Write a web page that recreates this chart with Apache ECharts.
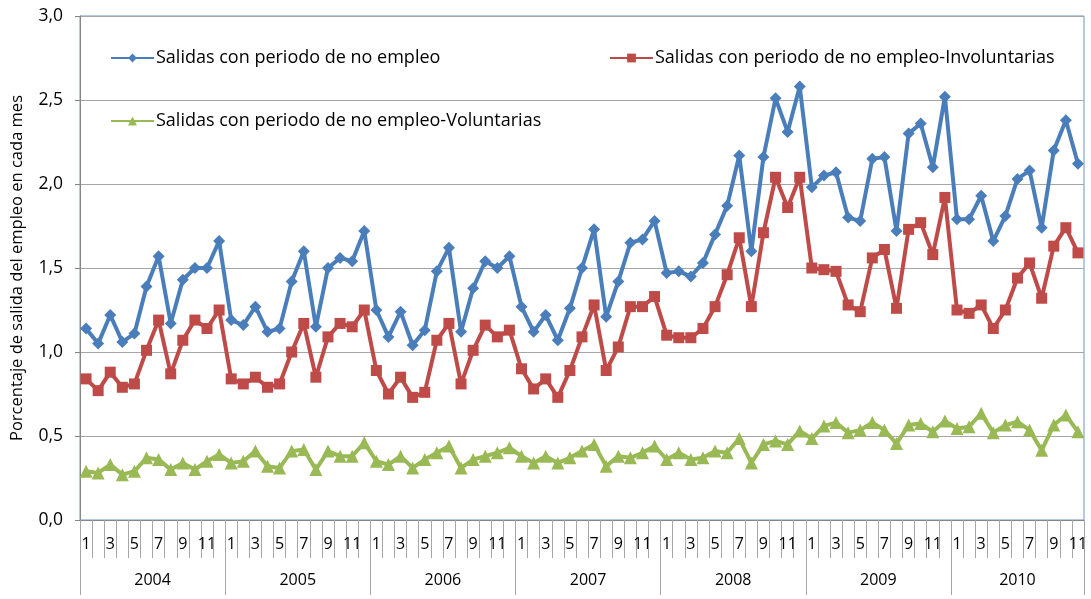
<!DOCTYPE html>
<html>
<head>
<meta charset="utf-8">
<script src="https://cdn.jsdelivr.net/npm/echarts@6/dist/echarts.min.js"></script>
<style>
html,body{margin:0;padding:0;background:#fff;}
#chart{width:1091px;height:599px;}
</style>
</head>
<body>
<div id="chart"></div>
<script>
// ---- Data ----
var years = ['2004', '2005', '2006', '2007', '2008', '2009', '2010'];
var monthsPerYear = [12, 12, 12, 12, 12, 12, 11];
var yTickLabels = ['0,0', '0,5', '1,0', '1,5', '2,0', '2,5', '3,0'];

var seriesNames = [
  'Salidas con periodo de no empleo',
  'Salidas con periodo de no empleo-Involuntarias',
  'Salidas con periodo de no empleo-Voluntarias'
];

var totalSalidas = [
  1.14,1.05,1.22,1.06,1.11,1.39,1.57,1.17,1.43,1.50,1.50,1.66,
  1.19,1.16,1.27,1.12,1.14,1.42,1.60,1.15,1.50,1.56,1.54,1.72,
  1.25,1.09,1.24,1.04,1.13,1.48,1.62,1.12,1.38,1.54,1.50,1.57,
  1.27,1.12,1.22,1.07,1.26,1.50,1.73,1.21,1.42,1.65,1.67,1.78,
  1.47,1.48,1.45,1.53,1.70,1.87,2.17,1.60,2.16,2.51,2.31,2.58,
  1.98,2.05,2.07,1.80,1.78,2.15,2.16,1.72,2.30,2.36,2.10,2.52,
  1.79,1.79,1.93,1.66,1.81,2.03,2.08,1.74,2.20,2.38,2.12
];
var involuntarias = [
  0.84,0.77,0.88,0.79,0.81,1.01,1.19,0.87,1.07,1.19,1.14,1.25,
  0.84,0.81,0.85,0.79,0.81,1.00,1.17,0.85,1.09,1.17,1.15,1.25,
  0.89,0.75,0.85,0.73,0.76,1.07,1.17,0.81,1.01,1.16,1.09,1.13,
  0.90,0.78,0.84,0.73,0.89,1.09,1.28,0.89,1.03,1.27,1.27,1.33,
  1.10,1.085,1.085,1.14,1.27,1.46,1.68,1.27,1.71,2.04,1.86,2.04,
  1.50,1.49,1.48,1.28,1.24,1.56,1.61,1.26,1.73,1.77,1.58,1.92,
  1.25,1.23,1.28,1.14,1.25,1.44,1.53,1.32,1.63,1.74,1.59
];
var voluntarias = [
  0.29,0.28,0.33,0.27,0.29,0.37,0.36,0.30,0.34,0.30,0.35,0.39,
  0.34,0.35,0.41,0.32,0.31,0.41,0.42,0.30,0.41,0.38,0.38,0.46,
  0.35,0.33,0.38,0.31,0.36,0.40,0.44,0.31,0.36,0.38,0.40,0.43,
  0.38,0.34,0.38,0.34,0.37,0.41,0.45,0.32,0.38,0.37,0.40,0.44,
  0.36,0.40,0.36,0.37,0.41,0.40,0.485,0.34,0.45,0.47,0.45,0.53,
  0.485,0.56,0.58,0.52,0.535,0.58,0.535,0.455,0.565,0.575,0.525,0.59,
  0.545,0.555,0.635,0.52,0.565,0.585,0.535,0.415,0.565,0.625,0.525
];

// ---- Derived categories ----
var months = [];
var yearStarts = [];
var yearCenters = [];
(function () {
  var pos = 0;
  for (var y = 0; y < years.length; y++) {
    yearStarts.push(pos);
    yearCenters.push(pos + monthsPerYear[y] / 2);
    for (var m = 1; m <= monthsPerYear[y]; m++) months.push(String(m));
    pos += monthsPerYear[y];
  }
  yearStarts.push(pos);
})();
var total = months.length;

var FONT = '"Open Sans", "Noto Sans", sans-serif';
var colors = ['#4a7ebb', '#be4b48', '#98b954'];
var symbols = ['diamond', 'rect', 'triangle'];
var symbolSizes = [12, 11, 13];
var dataSets = [totalSalidas, involuntarias, voluntarias];

var chart = echarts.init(document.getElementById('chart'), null, {renderer: 'canvas'});

var series = dataSets.map(function (d, i) {
  return {
    name: seriesNames[i],
    type: 'line',
    data: d,
    xAxisIndex: 0,
    yAxisIndex: 0,
    symbol: symbols[i],
    symbolSize: symbolSizes[i],
    showAllSymbol: true,
    lineStyle: {color: colors[i], width: 4},
    itemStyle: {color: colors[i], borderWidth: 0},
    emphasis: {disabled: true},
    animation: false,
    z: 3 + (2 - i)
  };
});

var legendCommon = {
  itemWidth: 43,
  itemHeight: 11,
  itemGap: 0,
  textStyle: {fontFamily: FONT, fontSize: 18, color: '#000', padding: [0, 0, 0, -3]},
  selectedMode: false
};

var option = {
  animation: false,
  backgroundColor: '#fff',
  grid: {
    left: 80, right: 7, top: 16, bottom: 79,
    show: true, borderColor: '#6f93c8', borderWidth: 1, backgroundColor: 'transparent'
  },
  legend: [
    Object.assign({data: [seriesNames[0]], left: 105, top: 44}, legendCommon),
    Object.assign({data: [seriesNames[1]], left: 604, top: 44}, legendCommon),
    Object.assign({data: [seriesNames[2]], left: 105, top: 107}, legendCommon)
  ],
  xAxis: [
    {
      type: 'category',
      data: months,
      position: 'bottom',
      boundaryGap: true,
      axisLine: {show: true, lineStyle: {color: '#868686', width: 1}},
      axisTick: {show: true, interval: 0, length: 38, lineStyle: {color: '#a6a6a6'}},
      axisLabel: {interval: 1, margin: 16, fontFamily: FONT, fontSize: 16, color: '#000'},
      splitLine: {show: false}
    },
    {
      type: 'value',
      min: 0,
      max: total,
      position: 'bottom',
      offset: 38,
      axisLine: {show: false},
      axisTick: {show: true, customValues: yearStarts, length: 37, lineStyle: {color: '#a6a6a6'}},
      axisLabel: {
        customValues: yearCenters,
        margin: 14,
        fontFamily: FONT, fontSize: 16, color: '#000',
        formatter: function (v) {
          var idx = yearCenters.indexOf(v);
          return idx >= 0 ? years[idx] : '';
        }
      },
      splitLine: {show: false}
    }
  ],
  yAxis: {
    type: 'value',
    min: 0,
    max: 3,
    interval: 0.5,
    name: 'Porcentaje de salida del empleo en cada mes',
    nameLocation: 'middle',
    nameGap: 54,
    nameTextStyle: {fontFamily: FONT, fontSize: 16.5, color: '#000'},
    axisLine: {show: true, lineStyle: {color: '#868686'}},
    axisTick: {show: true, length: 5, lineStyle: {color: '#868686'}},
    axisLabel: {
      margin: 17, fontFamily: FONT, fontSize: 17.5, color: '#000',
      formatter: function (v) { return yTickLabels[Math.round(v / 0.5)]; }
    },
    splitLine: {show: true, lineStyle: {color: '#a6a6a6', width: 1}}
  },
  series: series
};

chart.setOption(option);
</script>
</body>
</html>
